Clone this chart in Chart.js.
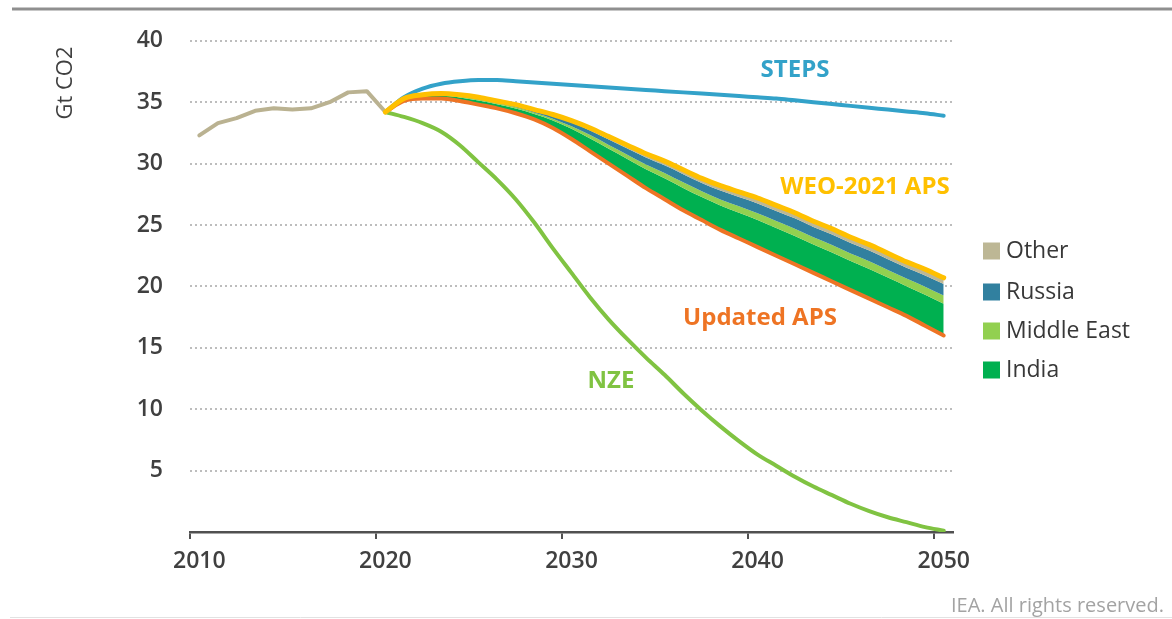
<!DOCTYPE html>
<html><head><meta charset="utf-8">
<script src="https://cdn.jsdelivr.net/npm/chart.js@4.4.1/dist/chart.umd.min.js"></script>
<style>html,body{margin:0;padding:0;background:#fff;overflow:hidden;} canvas{display:block;}</style>
</head><body>
<canvas id="c" width="1172" height="619"></canvas>
<script>
// ---------------- DATA ----------------
const firstYear = 2010, lastYear = 2050, projStart = 2020;
const tickLabels = ['2010', '2020', '2030', '2040', '2050'];
const yTickValues = [5, 10, 15, 20, 25, 30, 35, 40];
// Historical emissions 2010–2020 (Gt CO2)
const historical = [32.3, 33.3, 33.7, 34.3, 34.5, 34.4, 34.5, 35.0, 35.8, 35.9, 34.2];
// Scenarios 2020–2050
const steps = [34.2, 35.4, 36.1, 36.5, 36.7, 36.8, 36.8, 36.7, 36.6, 36.5, 36.4, 36.3, 36.2, 36.1, 36.0, 35.9, 35.8, 35.7, 35.6, 35.5, 35.4, 35.3, 35.15, 35.0, 34.85, 34.7, 34.55, 34.4, 34.25, 34.1, 33.9];
const nze = [34.2, 33.8, 33.3, 32.6, 31.5, 30.1, 28.7, 27.1, 25.2, 23.1, 21.1, 19.1, 17.3, 15.7, 14.2, 12.8, 11.3, 9.9, 8.6, 7.4, 6.3, 5.4, 4.5, 3.7, 3.0, 2.3, 1.7, 1.2, 0.8, 0.4, 0.1];
const weoAps = [34.2, 35.3, 35.6, 35.7, 35.6, 35.4, 35.1, 34.8, 34.4, 34.0, 33.5, 32.9, 32.2, 31.5, 30.8, 30.2, 29.5, 28.8, 28.2, 27.7, 27.2, 26.6, 26.0, 25.3, 24.7, 24.0, 23.4, 22.7, 22.0, 21.4, 20.7];
const updatedAps = [34.2, 35.1, 35.3, 35.3, 35.1, 34.8, 34.5, 34.1, 33.6, 32.9, 32.0, 31.0, 30.0, 29.0, 28.0, 27.1, 26.2, 25.4, 24.6, 23.9, 23.2, 22.5, 21.8, 21.1, 20.4, 19.7, 19.0, 18.3, 17.6, 16.8, 16.0];
// Gap between Updated APS and WEO-2021 APS, by region (stacked above Updated APS)
const india = [0, 0.11, 0.17, 0.22, 0.28, 0.33, 0.33, 0.39, 0.44, 0.61, 0.83, 1.05, 1.21, 1.38, 1.54, 1.71, 1.82, 1.87, 1.98, 2.09, 2.20, 2.26, 2.31, 2.31, 2.37, 2.37, 2.42, 2.42, 2.42, 2.53, 2.59];
const middleEast = [0, 0.03, 0.04, 0.06, 0.07, 0.08, 0.08, 0.10, 0.11, 0.15, 0.21, 0.27, 0.31, 0.35, 0.39, 0.43, 0.46, 0.48, 0.50, 0.53, 0.56, 0.57, 0.59, 0.59, 0.60, 0.60, 0.62, 0.62, 0.62, 0.64, 0.66];
const russia = [0, 0.04, 0.06, 0.08, 0.10, 0.12, 0.12, 0.14, 0.16, 0.22, 0.30, 0.38, 0.44, 0.50, 0.56, 0.62, 0.66, 0.68, 0.72, 0.76, 0.80, 0.82, 0.84, 0.84, 0.86, 0.86, 0.88, 0.88, 0.88, 0.92, 0.94];
const other = [0, 0.02, 0.03, 0.04, 0.05, 0.07, 0.07, 0.07, 0.09, 0.12, 0.16, 0.20, 0.24, 0.27, 0.31, 0.34, 0.36, 0.37, 0.40, 0.42, 0.44, 0.45, 0.46, 0.46, 0.47, 0.47, 0.48, 0.48, 0.48, 0.51, 0.51];

// ---------------- BUILD ----------------
const years = [];
for (let y = firstYear; y <= lastYear; y++) years.push(String(y));
const nYears = years.length;
const padHist = arr => years.map((_, i) => i < arr.length ? arr[i] : null);
const offset = projStart - firstYear;
const padProj = arr => years.map((_, i) => i >= offset ? arr[i - offset] : null);

const indiaTop = updatedAps.map((v, i) => v + india[i]);
const meTop = indiaTop.map((v, i) => v + middleEast[i]);
const russiaTop = meTop.map((v, i) => v + russia[i]);
const otherTop = russiaTop.map((v, i) => v + other[i]);

const C = {
  tan: '#bab291', steps: '#33a2c9', nze: '#80c342', weo: '#ffc000', upd: '#ee7424',
  india: '#00b050', me: '#92d050', russia: '#31809f', other: '#bdb795', text: '#404040'
};
const FONT = '"Open Sans", "DejaVu Sans", sans-serif';

const lineDs = (label, data, color, width) => ({
  label, data, borderColor: color, backgroundColor: color, borderWidth: width,
  pointRadius: 0, fill: false, cubicInterpolationMode: 'monotone',
  borderCapStyle: 'round', borderJoinStyle: 'round'
});
const areaDs = (label, data, color, target) => ({
  label, data, borderColor: color, backgroundColor: color, borderWidth: 0,
  pointRadius: 0, fill: target, cubicInterpolationMode: 'monotone'
});

const datasets = [
  lineDs('WEO-2021 APS', padProj(weoAps), C.weo, 5),        // 0
  lineDs('Updated APS', padProj(updatedAps), C.upd, 4),     // 1
  lineDs('STEPS', padProj(steps), C.steps, 4),              // 2
  lineDs('NZE', padProj(nze), C.nze, 4),                    // 3
  Object.assign(lineDs('Historical', padHist(historical), C.tan, 4), {cubicInterpolationMode: 'default', tension: 0}), // 4
  areaDs('Other', padProj(otherTop), C.other, 6),           // 5
  areaDs('Russia', padProj(russiaTop), C.russia, 7),        // 6
  areaDs('Middle East', padProj(meTop), C.me, 8),           // 7
  areaDs('India', padProj(indiaTop), C.india, 1)            // 8
];

const legendItems = [
  {label: 'Other', color: C.other},
  {label: 'Russia', color: C.russia},
  {label: 'Middle East', color: C.me},
  {label: 'India', color: C.india}
];
const annotations = [
  {text: 'STEPS', color: C.steps, x: 795, y: 70},
  {text: 'WEO-2021 APS', color: C.weo, x: 865, y: 187},
  {text: 'Updated APS', color: C.upd, x: 760, y: 318},
  {text: 'NZE', color: C.nze, x: 611, y: 381}
];

const decorations = {
  id: 'decorations',
  afterDraw(chart) {
    const ctx = chart.ctx;
    ctx.save();
    // top rule
    ctx.strokeStyle = '#8f8f8f'; ctx.lineWidth = 3;
    ctx.beginPath(); ctx.moveTo(12, 9); ctx.lineTo(1172, 9); ctx.stroke();
    // bottom rule
    ctx.strokeStyle = '#e2e2e2'; ctx.lineWidth = 1;
    ctx.beginPath(); ctx.moveTo(10, 617.5); ctx.lineTo(1172, 617.5); ctx.stroke();
    // y title
    ctx.save();
    ctx.translate(66, 83); ctx.rotate(-Math.PI / 2);
    ctx.fillStyle = C.text; ctx.font = '400 22px ' + FONT;
    ctx.textAlign = 'center'; ctx.textBaseline = 'middle';
    ctx.fillText('Gt CO2', 0, 0);
    ctx.restore();
    // scenario labels
    ctx.font = '700 24px ' + FONT; ctx.textAlign = 'center'; ctx.textBaseline = 'middle';
    annotations.forEach(a => { ctx.fillStyle = a.color; ctx.fillText(a.text, a.x, a.y); });
    // legend
    const ly = [251, 292, 331, 370];
    ctx.font = '400 23px ' + FONT; ctx.textAlign = 'left';
    legendItems.forEach((it, i) => {
      ctx.fillStyle = it.color; ctx.fillRect(983, ly[i] - 8.5, 17, 17);
      ctx.fillStyle = '#383838'; ctx.fillText(it.label, 1006, ly[i]);
    });
    // source
    ctx.font = '400 20px ' + FONT; ctx.textAlign = 'right'; ctx.fillStyle = '#a3a3a3';
    ctx.fillText('IEA. All rights reserved.', 1164, 606);
    ctx.restore();
  }
};

new Chart(document.getElementById('c'), {
  type: 'line',
  data: {labels: years, datasets},
  options: {
    responsive: false, animation: false, devicePixelRatio: 1,
    layout: {padding: {left: 90, right: 219, top: 38, bottom: 42}},
    plugins: {legend: {display: false}, tooltip: {enabled: false}},
    scales: {
      x: {
        type: 'category', offset: true,
        afterFit: s => { s.height = 45; },
        grid: {
          offset: true, drawOnChartArea: false, drawTicks: true, tickLength: 7, lineWidth: 2,
          color: c => (c.index % 10 === 0 && c.index < nYears) ? '#505050' : 'rgba(0,0,0,0)'
        },
        border: {display: true, color: '#505050', width: 2.5},
        ticks: {
          autoSkip: false, maxRotation: 0, minRotation: 0, padding: 9, color: C.text,
          font: {family: FONT, size: 23, weight: '600'},
          callback: (v, i) => tickLabels.includes(years[i]) ? years[i] : ''
        }
      },
      y: {
        min: 0, max: 40,
        afterFit: s => { s.width = 100; },
        grid: {
          drawTicks: false, lineWidth: 2,
          color: c => (c.tick && c.tick.value === 0) ? 'rgba(0,0,0,0)' : '#bdbdbd'
        },
        border: {display: false, dash: [2, 3]},
        ticks: {
          stepSize: 5, padding: 27, color: C.text,
          font: {family: FONT, size: 23, weight: '600'},
          callback: v => yTickValues.includes(v) ? String(v) : ''
        }
      }
    }
  },
  plugins: [decorations]
});
</script>
</body></html>
